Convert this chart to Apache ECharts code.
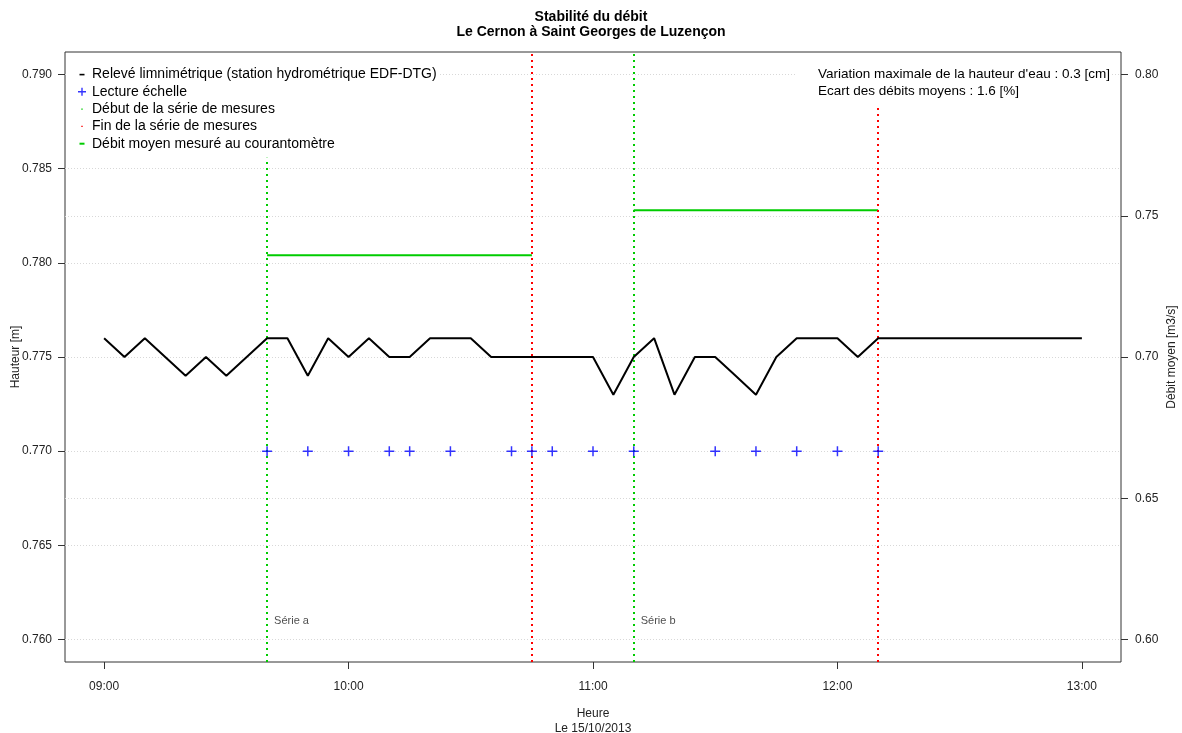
<!DOCTYPE html>
<html>
<head>
<meta charset="utf-8">
<script src="https://cdn.jsdelivr.net/npm/echarts@6/dist/echarts.min.js"></script>
<style>
  html, body { margin: 0; padding: 0; background: #fff; }
  #chart { width: 1182px; height: 733px; }
</style>
</head>
<body>
<div id="chart"></div>
<script>
// relevé limnimétrique, pas de 5 minutes
var levelTimes = ["09:00","09:05","09:10","09:15","09:20","09:25","09:30","09:35","09:40","09:45",
  "09:50","09:55","10:00","10:05","10:10","10:15","10:20","10:25","10:30","10:35",
  "10:40","10:45","10:50","10:55","11:00","11:05","11:10","11:15","11:20","11:25",
  "11:30","11:35","11:40","11:45","11:50","11:55","12:00","12:05","12:10","12:15",
  "12:20","12:25","12:30","12:35","12:40","12:45","12:50","12:55","13:00"];
var levelValues = [0.776,0.775,0.776,0.775,0.774,0.775,0.774,0.775,0.776,0.776,
  0.774,0.776,0.775,0.776,0.775,0.775,0.776,0.776,0.776,0.775,
  0.775,0.775,0.775,0.775,0.775,0.773,0.775,0.776,0.773,0.775,
  0.775,0.774,0.773,0.775,0.776,0.776,0.776,0.775,0.776,0.776,
  0.776,0.776,0.776,0.776,0.776,0.776,0.776,0.776,0.776];

// lectures échelle
var readTimes = ["09:40","09:50","10:00","10:10","10:15","10:25","10:40","10:45","10:50",
  "11:00","11:10","11:30","11:40","11:50","12:00","12:10"];
var readValues = [0.770,0.770,0.770,0.770,0.770,0.770,0.770,0.770,0.770,
  0.770,0.770,0.770,0.770,0.770,0.770,0.770];

// séries de mesures
var seriesNames = ["Série a", "Série b"];
var seriesStart = ["09:40", "11:10"];
var seriesEnd = ["10:45", "12:10"];
var meanFlow = [0.736, 0.752];

var xTicks = ["09:00", "10:00", "11:00", "12:00", "13:00"];
var hTicks = [0.760, 0.765, 0.770, 0.775, 0.780, 0.785, 0.790];
var qTicks = [0.60, 0.65, 0.70, 0.75, 0.80];

function toMin(s) {
  var p = s.split(":");
  return +p[0] * 60 + +p[1];
}
function fmtTime(v) {
  var h = Math.floor(v / 60), m = Math.round(v % 60);
  return (h < 10 ? "0" : "") + h + ":" + (m < 10 ? "0" : "") + m;
}

var font = "Liberation Sans, Arial, sans-serif";
var GREEN = "#00cc00", RED = "#ff0000", BLUE = "#0000ff";
var NAME_LEVEL = "Relevé limnimétrique (station hydrométrique EDF-DTG)";
var NAME_READ = "Lecture échelle";
var NAME_START = "Début de la série de mesures";
var NAME_END = "Fin de la série de mesures";
var NAME_MEAN = "Débit moyen mesuré au courantomètre";

var xMin = toMin(xTicks[0]), xMax = toMin(xTicks[xTicks.length - 1]);
var xPad = (xMax - xMin) * 0.04;
var hMin = hTicks[0], hMax = hTicks[hTicks.length - 1], hPad = (hMax - hMin) * 0.04;
var qMin = qTicks[0], qMax = qTicks[qTicks.length - 1], qPad = (qMax - qMin) * 0.04;

var plus = "path://M4.25,0h1.5v4.25h4.25v1.5h-4.25v4.25h-1.5v-4.25h-4.25v-1.5h4.25z";
var dotted = { type: [2, 4], width: 2 };

var series = [
  {
    name: NAME_LEVEL, type: "line", yAxisIndex: 0, symbol: "none", z: 5,
    lineStyle: { color: "#000", width: 2 }, itemStyle: { color: "#000" },
    data: levelTimes.map(function (t, i) { return [toMin(t), levelValues[i]]; })
  },
  {
    name: NAME_READ, type: "scatter", yAxisIndex: 0, symbol: plus, symbolSize: 10, z: 6,
    itemStyle: { color: BLUE },
    data: readTimes.map(function (t, i) { return [toMin(t), readValues[i]]; })
  },
  {
    name: NAME_START, type: "line", yAxisIndex: 0, data: [], itemStyle: { color: GREEN },
    markLine: {
      silent: true, symbol: "none", label: { show: false },
      lineStyle: Object.assign({ color: GREEN }, dotted),
      data: seriesStart.map(function (t) { return { xAxis: toMin(t) }; })
    }
  },
  {
    name: NAME_END, type: "line", yAxisIndex: 0, data: [], itemStyle: { color: RED },
    markLine: {
      silent: true, symbol: "none", label: { show: false },
      lineStyle: Object.assign({ color: RED }, dotted),
      data: seriesEnd.map(function (t) { return { xAxis: toMin(t) }; })
    }
  },
  {
    name: "labels", type: "scatter", yAxisIndex: 0, symbolSize: 0, silent: true,
    label: {
      show: true, position: "right", distance: 7, color: "#222", fontSize: 11, fontFamily: font,
      formatter: function (p) { return p.data[2]; }
    },
    data: seriesStart.map(function (t, i) { return [toMin(t), 0.76096, seriesNames[i]]; })
  }
];
meanFlow.forEach(function (q, i) {
  series.push({
    name: NAME_MEAN, type: "line", yAxisIndex: 1, symbol: "none",
    lineStyle: { color: GREEN, width: 2 }, itemStyle: { color: GREEN },
    data: [[toMin(seriesStart[i]), q], [toMin(seriesEnd[i]), q]]
  });
});

function icon(body) { return "path://M0,0M10,10" + body; }

var chart = echarts.init(document.getElementById("chart"));
chart.setOption({
  backgroundColor: "#fff",
  animation: false,
  textStyle: { fontFamily: font },
  title: [
    {
      text: "Stabilité du débit\nLe Cernon à Saint Georges de Luzençon",
      left: "center", top: 9, padding: 0,
      textStyle: { fontSize: 14, fontWeight: "bold", color: "#000", lineHeight: 15.5, fontFamily: font, align: "center" }
    },
    {
      text: "Variation maximale de la hauteur d'eau : 0.3 [cm]\nEcart des débits moyens : 1.6 [%]",
      left: 796, top: 53, padding: [13.5, 2, 8.5, 22], z: 10,
      backgroundColor: "#fff",
      textStyle: { fontSize: 13.5, fontWeight: "normal", color: "#000", lineHeight: 16.5, fontFamily: font }
    }
  ],
  legend: {
    orient: "vertical", left: 67, top: 53, padding: [13, 2, 5.5, 10], z: 10,
    backgroundColor: "#fff", itemWidth: 10, itemHeight: 10, itemGap: 0.3,
    selectedMode: false,
    textStyle: { fontSize: 14, color: "#000", lineHeight: 17, fontFamily: font },
    data: [
      { name: NAME_LEVEL, icon: icon("M2.5,4.3h5v1.6h-5z"), itemStyle: { color: "#000", borderWidth: 0 } },
      { name: NAME_READ, icon: icon("M4.3,1h1.4v3.3h3.3v1.4h-3.3v3.3h-1.4v-3.3h-3.3v-1.4h3.3z"), itemStyle: { color: BLUE, borderWidth: 0 } },
      { name: NAME_START, icon: icon("M4.3,4.3h1.4v1.4h-1.4z"), itemStyle: { color: GREEN, borderWidth: 0 } },
      { name: NAME_END, icon: icon("M4.3,4.3h1.4v1.4h-1.4z"), itemStyle: { color: RED, borderWidth: 0 } },
      { name: NAME_MEAN, icon: icon("M2.5,4h5v2h-5z"), itemStyle: { color: GREEN, borderWidth: 0 } }
    ]
  },
  grid: {
    left: 65, right: 61, top: 52, bottom: 71, outerBoundsMode: "none", containLabel: false,
    show: true, borderColor: "#333", borderWidth: 1, backgroundColor: "transparent"
  },
  xAxis: {
    type: "value", min: xMin - xPad, max: xMax + xPad,
    name: "Heure\nLe 15/10/2013", nameLocation: "middle", nameGap: 44.5, nameMoveOverlap: false,
    nameTextStyle: { fontSize: 12, color: "#222", lineHeight: 15, fontFamily: font },
    axisLine: { show: false },
    axisTick: { show: true, length: 7, lineStyle: { color: "#333" }, customValues: xTicks.map(toMin) },
    axisLabel: {
      color: "#222", fontSize: 12, margin: 19, fontFamily: font,
      customValues: xTicks.map(toMin), formatter: fmtTime
    },
    splitLine: { show: false }
  },
  yAxis: [
    {
      type: "value", position: "left", min: hMin - hPad, max: hMax + hPad,
      name: "Hauteur [m]", nameLocation: "middle", nameGap: 43, nameMoveOverlap: false,
      nameTextStyle: { fontSize: 12, color: "#222", fontFamily: font },
      axisLine: { show: false },
      axisTick: { show: true, length: 7, lineStyle: { color: "#333" }, customValues: hTicks },
      axisLabel: {
        color: "#222", fontSize: 12, margin: 13, fontFamily: font,
        customValues: hTicks, formatter: function (v) { return v.toFixed(3); }
      },
      splitLine: { show: true, lineStyle: { color: "#d8d8d8", type: [1, 2], width: 1 } }
    },
    {
      type: "value", position: "right", min: qMin - qPad, max: qMax + qPad,
      name: "Débit moyen [m3/s]", nameLocation: "middle", nameGap: 45, nameMoveOverlap: false,
      nameTextStyle: { fontSize: 12, color: "#222", fontFamily: font },
      axisLine: { show: false },
      axisTick: { show: true, length: 7, lineStyle: { color: "#333" }, customValues: qTicks },
      axisLabel: {
        color: "#222", fontSize: 12, margin: 14, fontFamily: font,
        customValues: qTicks, formatter: function (v) { return v.toFixed(2); }
      },
      splitLine: { show: true, lineStyle: { color: "#d8d8d8", type: [1, 2], width: 1 } }
    }
  ],
  series: series
});
</script>
</body>
</html>
